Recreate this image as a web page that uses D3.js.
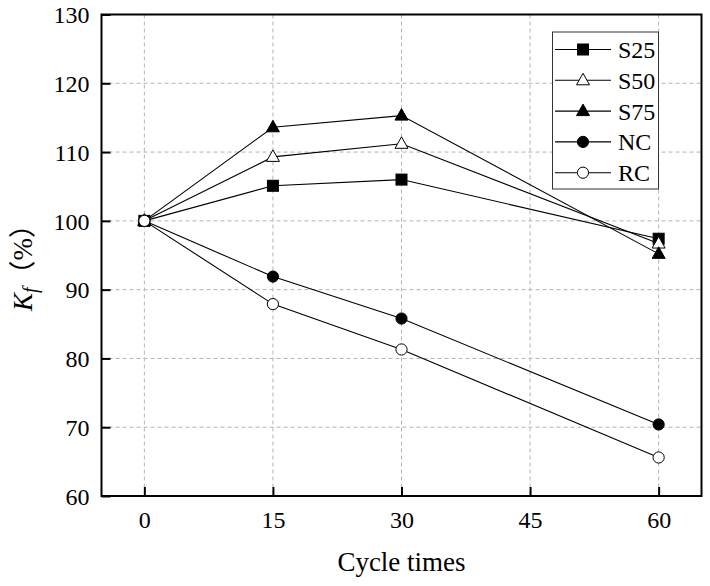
<!DOCTYPE html>
<html>
<head>
<meta charset="utf-8">
<script src="https://cdn.jsdelivr.net/npm/d3@7"></script>
<style>
  html, body { margin: 0; padding: 0; background: #fff; }
  svg { display: block; }
  svg text { font-family: "Liberation Serif", "Times New Roman", serif; }
</style>
</head>
<body>
<script>
// Data
const cycles = [0, 15, 30, 60];
const xTicks = [0, 15, 30, 45, 60];
const yTicks = [60, 70, 80, 90, 100, 110, 120, 130];
const seriesNames = ["S25", "S50", "S75", "NC", "RC"];
const s25 = [100, 105.1, 106.0, 97.4];
const s50 = [100, 109.3, 111.2, 96.7];
const s75 = [100, 113.6, 115.3, 95.2];
const nc = [100, 91.9, 85.8, 70.4];
const rc = [100, 87.9, 81.3, 65.6];
const markerShapes = ["square", "triangle", "triangle", "circle", "circle"];
const markerFilled = [true, false, true, true, false];

const width = 710, height = 586;
const margin = { top: 14.5, right: 8.5, bottom: 90, left: 101.5 };

const svg = d3.select("body").append("svg")
    .attr("width", width)
    .attr("height", height);

const x = d3.scaleLinear()
    .domain([-5, 65])
    .range([margin.left, width - margin.right]);

const y = d3.scaleLinear()
    .domain([60, 130])
    .range([height - margin.bottom, margin.top]);

// Grid
const grid = svg.append("g")
    .attr("stroke", "#b4b4b4")
    .attr("stroke-width", 1)
    .attr("stroke-dasharray", "4,3");

grid.selectAll(".vg")
    .data(xTicks)
    .join("line")
    .attr("x1", d => x(d)).attr("x2", d => x(d))
    .attr("y1", y(130)).attr("y2", y(60));

grid.selectAll(".hg")
    .data(yTicks.filter(d => d > 60 && d < 130))
    .join("line")
    .attr("x1", x(-5)).attr("x2", x(65))
    .attr("y1", d => y(d)).attr("y2", d => y(d));

// Axes (ticks pointing inward)
const xAxis = svg.append("g")
    .attr("transform", `translate(0,${y(60)})`)
    .call(d3.axisBottom(x).tickValues(xTicks).tickSize(-9).tickPadding(16));

const yAxis = svg.append("g")
    .attr("transform", `translate(${x(-5)},0)`)
    .call(d3.axisLeft(y).tickValues(yTicks).tickSize(-9).tickPadding(12));

[xAxis, yAxis].forEach(a => {
    a.attr("font-family", null).attr("font-size", null);
    a.select(".domain").remove();
    a.selectAll(".tick line").attr("stroke", "#000").attr("stroke-width", 2);
    a.selectAll(".tick text")
        .attr("fill", "#000")
        .style("font-size", "24px");
});
yAxis.selectAll(".tick text").attr("dy", "0.34em");
xAxis.selectAll(".tick text").attr("dy", "0.68em");

// Frame
svg.append("rect")
    .attr("x", x(-5)).attr("y", y(130))
    .attr("width", x(65) - x(-5))
    .attr("height", y(60) - y(130))
    .attr("fill", "none")
    .attr("stroke", "#000")
    .attr("stroke-width", 2);

// Axis titles
svg.append("text")
    .attr("x", (x(-5) + x(65)) / 2)
    .attr("y", 571)
    .attr("text-anchor", "middle")
    .style("font-size", "27px")
    .text("Cycle times");

const yLabel = svg.append("text")
    .attr("transform", `translate(32,311) rotate(-90)`)
    .attr("text-anchor", "start")
    .style("font-size", "27px");
yLabel.append("tspan").style("font-style", "italic").text("K");
yLabel.append("tspan").style("font-style", "italic").style("font-size", "20px")
    .attr("dy", 5).text("f");
yLabel.append("tspan").attr("dy", -5)
    .style("font-family", "'Noto Sans CJK SC', sans-serif").text("（");
yLabel.append("tspan").text("%");
yLabel.append("tspan")
    .style("font-family", "'Noto Sans CJK SC', sans-serif").text("）");

// Markers
function drawMarker(g, shape, filled, cx, cy) {
    const fill = filled ? "#000" : "#fff";
    if (shape === "square") {
        g.append("rect")
            .attr("x", cx - 5.5).attr("y", cy - 5.5)
            .attr("width", 11).attr("height", 11)
            .attr("fill", fill).attr("stroke", "#000").attr("stroke-width", 1);
    } else if (shape === "triangle") {
        g.append("path")
            .attr("d", `M${cx},${cy - 7}L${cx + 6.5},${cy + 4.5}L${cx - 6.5},${cy + 4.5}Z`)
            .attr("fill", fill).attr("stroke", "#000").attr("stroke-width", 1);
    } else {
        g.append("circle")
            .attr("cx", cx).attr("cy", cy).attr("r", 5.6)
            .attr("fill", fill).attr("stroke", "#000").attr("stroke-width", 1);
    }
}

const allSeries = [s25, s50, s75, nc, rc];
const line = d3.line()
    .x((d, i) => x(cycles[i]))
    .y(d => y(d));

const plot = svg.append("g");
allSeries.forEach((vals, k) => {
    const g = plot.append("g");
    g.append("path")
        .datum(vals)
        .attr("d", line)
        .attr("fill", "none")
        .attr("stroke", "#000")
        .attr("stroke-width", 1.1);
    vals.forEach((v, i) => drawMarker(g, markerShapes[k], markerFilled[k], x(cycles[i]), y(v)));
});

// Legend
const legend = svg.append("g");
legend.append("rect")
    .attr("x", 552.5).attr("y", 32)
    .attr("width", 106).attr("height", 157)
    .attr("fill", "#fff")
    .attr("stroke", "#333")
    .attr("stroke-width", 1);

seriesNames.forEach((name, k) => {
    const cy = 49.5 + k * 30.8;
    legend.append("line")
        .attr("x1", 555).attr("x2", 611)
        .attr("y1", cy).attr("y2", cy)
        .attr("stroke", "#000").attr("stroke-width", 1.1);
    drawMarker(legend, markerShapes[k], markerFilled[k], 583, cy);
    legend.append("text")
        .attr("x", 618).attr("y", cy)
        .attr("dy", "0.35em")
        .style("font-size", "24px")
        .text(name);
});
</script>
</body>
</html>
